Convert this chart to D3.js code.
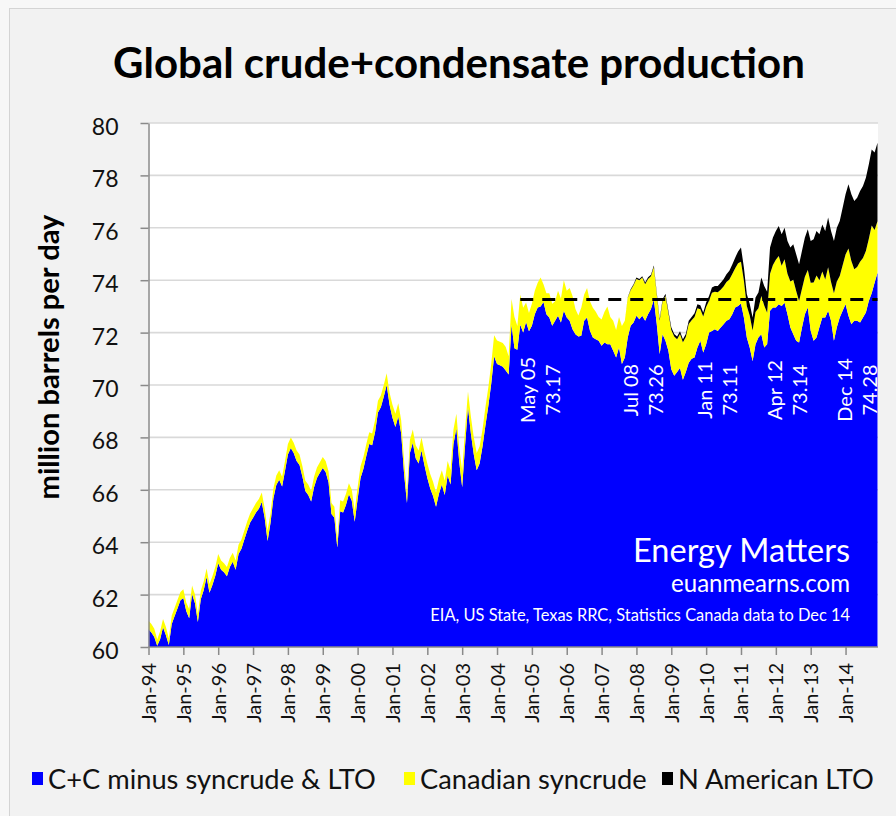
<!DOCTYPE html>
<html><head><meta charset="utf-8">
<script src="https://cdn.jsdelivr.net/npm/d3@7"></script>
<style>
html,body{margin:0;padding:0;background:#f7f7f7;}
svg{display:block;font-family:Lato,"Open Sans",sans-serif;}
</style></head><body>
<svg id="c" width="896" height="816"></svg>
<script>
// ---- data (million barrels per day), monthly Jan-94 .. Dec-14 ----
const blue = [
60.68,60.55,60.38,60.05,60.30,60.75,60.45,60.08,60.88,61.18,61.48,61.78,
61.87,61.37,61.10,62.02,61.67,60.95,61.82,62.17,62.67,62.07,62.37,62.72,
63.20,62.95,62.85,62.70,63.05,63.25,62.95,63.55,63.75,64.10,64.45,64.75,
64.93,65.13,65.28,65.53,64.93,64.05,64.73,65.68,66.18,66.38,66.13,66.73,
67.35,67.60,67.40,67.10,66.95,66.50,65.95,65.80,65.55,66.10,66.45,66.65,
66.83,66.68,66.28,65.08,64.93,63.80,65.18,65.13,65.43,65.83,65.58,64.78,
65.65,66.45,66.80,67.30,67.75,67.70,68.20,68.95,69.15,69.55,70.00,69.25,
68.75,68.40,68.80,68.15,66.60,65.50,67.40,67.80,67.20,67.00,67.50,66.95,
66.45,66.05,65.75,65.35,65.85,66.20,65.80,66.55,66.20,67.75,68.35,67.05,
66.10,67.70,69.15,68.15,67.35,66.75,67.00,67.65,68.45,69.20,70.05,71.10,
70.80,70.75,70.70,70.55,70.40,72.30,71.40,71.35,72.30,72.00,72.40,72.05,
72.26,72.70,72.96,73.00,73.17,72.70,72.58,72.26,72.45,72.64,72.39,72.83,
72.58,72.45,72.13,71.94,71.85,71.88,72.45,72.58,72.07,71.81,71.75,71.69,
71.50,71.62,71.56,71.56,71.31,71.05,71.43,70.80,71.05,71.81,72.26,72.39,
72.64,72.51,72.64,72.45,72.70,72.90,73.26,72.32,71.18,71.94,71.69,71.31,
70.60,70.35,70.50,70.65,70.20,70.50,70.85,71.00,71.05,71.43,71.69,71.24,
71.56,72.00,72.06,72.13,72.06,72.19,72.32,72.45,72.51,72.70,72.96,73.02,
73.11,72.58,71.81,71.43,70.92,71.56,71.81,71.94,71.43,71.56,72.83,72.96,
72.96,73.08,73.02,73.14,72.70,72.19,71.94,71.69,71.62,72.19,72.70,72.96,
72.07,71.69,71.81,72.20,72.58,72.58,72.83,72.45,71.69,72.20,72.58,72.83,
73.08,72.64,72.32,72.45,72.45,72.39,72.58,72.77,73.21,73.50,73.90,74.28
];
const syncrude = [
0.32,0.33,0.32,0.25,0.30,0.32,0.31,0.25,0.32,0.32,0.32,0.32,
0.33,0.33,0.35,0.33,0.33,0.30,0.33,0.33,0.33,0.33,0.33,0.33,
0.35,0.35,0.35,0.35,0.35,0.35,0.35,0.35,0.35,0.35,0.35,0.35,
0.37,0.37,0.37,0.37,0.37,0.40,0.37,0.37,0.37,0.37,0.37,0.37,
0.40,0.40,0.40,0.40,0.40,0.40,0.40,0.40,0.40,0.40,0.40,0.40,
0.42,0.42,0.42,0.42,0.42,0.30,0.42,0.42,0.42,0.42,0.42,0.42,
0.45,0.45,0.45,0.45,0.45,0.45,0.45,0.45,0.45,0.45,0.45,0.45,
0.50,0.50,0.50,0.50,0.50,0.35,0.50,0.50,0.50,0.50,0.50,0.50,
0.55,0.55,0.55,0.55,0.55,0.55,0.55,0.55,0.55,0.55,0.55,0.55,
0.65,0.60,0.60,0.65,0.65,0.65,0.65,0.65,0.70,0.70,0.75,0.80,
0.90,0.90,0.90,0.90,0.70,0.98,1.20,0.90,1.15,0.95,0.75,0.70,
0.84,0.90,0.94,1.10,0.68,0.80,0.92,0.84,0.75,0.96,0.91,1.17,
1.02,1.25,1.27,0.96,0.80,1.07,1.00,1.12,1.13,1.14,1.05,0.91,
1.00,1.18,1.44,1.04,1.14,1.05,1.17,1.45,1.40,1.52,1.36,1.42,
1.41,1.49,1.46,1.40,1.35,1.25,1.24,1.13,1.27,1.26,1.71,1.44,
1.50,1.50,1.25,1.30,1.43,1.33,1.48,1.47,1.55,1.50,1.20,1.37,
1.42,1.22,1.46,1.43,1.48,1.45,1.44,1.48,1.52,1.54,1.50,1.63,
1.59,1.40,1.21,1.22,1.16,1.23,1.12,1.46,1.60,1.20,1.42,1.62,
1.82,1.84,1.53,1.66,1.55,1.76,2.08,1.90,1.59,1.48,1.43,1.43,
1.83,2.22,2.37,1.80,1.75,1.45,1.66,1.48,1.81,1.75,1.58,1.74,
1.90,2.57,2.41,1.97,2.05,2.31,2.27,2.34,2.36,2.59,2.02,1.97
];
const lto = [
0,0,0,0,0,0,0,0,0,0,0,0,
0,0,0,0,0,0,0,0,0,0,0,0,
0,0,0,0,0,0,0,0,0,0,0,0,
0,0,0,0,0,0,0,0,0,0,0,0,
0,0,0,0,0,0,0,0,0,0,0,0,
0,0,0,0,0,0,0,0,0,0,0,0,
0,0,0,0,0,0,0,0,0,0,0,0,
0,0,0,0,0,0,0,0,0,0,0,0,
0,0,0,0,0,0,0,0,0,0,0,0,
0,0,0,0,0,0,0,0,0,0,0,0,
0,0,0,0,0,0,0,0,0,0,0,0,
0,0,0,0,0,0,0,0,0,0,0,0,
0,0,0,0,0,0,0,0,0,0,0,0,
0,0,0,0,0,0,0,0,0,0.02,0.03,0.04,
0.05,0.05,0.05,0.06,0.06,0.06,0.06,0.07,0.07,0.07,0.08,0.08,
0.10,0.10,0.10,0.10,0.12,0.12,0.12,0.13,0.14,0.15,0.15,0.16,
0.17,0.18,0.20,0.22,0.24,0.26,0.28,0.30,0.33,0.36,0.40,0.45,
0.55,0.50,0.45,0.45,0.50,0.55,0.60,0.70,0.75,0.80,1.00,1.05,
1.10,1.15,1.20,1.20,1.25,1.30,1.35,1.40,1.40,1.45,1.50,1.55,
1.60,1.65,1.70,1.75,1.80,1.85,1.90,1.95,2.00,2.05,2.10,2.20,
2.30,2.45,2.55,2.60,2.65,2.70,2.75,2.80,2.85,2.90,2.95,3.00
];
const seriesNames = ["C+C minus syncrude & LTO","Canadian syncrude","N American LTO"];
const seriesColors = ["#0000ff","#ffff00","#000000"];
const yTicks = [60,62,64,66,68,70,72,74,76,78,80];
const xTickLabels = ["Jan-94","Jan-95","Jan-96","Jan-97","Jan-98","Jan-99","Jan-00","Jan-01","Jan-02","Jan-03","Jan-04","Jan-05","Jan-06","Jan-07","Jan-08","Jan-09","Jan-10","Jan-11","Jan-12","Jan-13","Jan-14"];
const xTickMonths = [0,12,24,36,48,60,72,84,96,108,120,132,144,156,168,180,192,204,216,228,240];
const peakMonthLabels = ["May 05","Jul 08","Jan 11","Apr 12","Dec 14"];
const peakValueLabels = ["73.17","73.26","73.11","73.14","74.28"];
const peakMonthIndex = [136,174,204,219,251];
const refLevel = 73.26;
const refFromMonth = 128;
const titleText = "Global crude+condensate production";
const yTitle = "million barrels per day";
const noteLines = ["Energy Matters","euanmearns.com","EIA, US State, Texas RRC, Statistics Canada data to Dec 14"];

// ---- layout ----
const svg = d3.select("#c");
const L = 148.5, R = 878, T = 123, B = 647;
const x = d3.scaleLinear().domain([0, blue.length - 1]).range([L, 877.5]);
const y = d3.scaleLinear().domain([60, 80]).range([B, T]);

function fit(sel, w){
  const fs = parseFloat(sel.attr("font-size"));
  const len = sel.node().getComputedTextLength();
  sel.attr("font-size", (fs * w / len).toFixed(2));
  return sel;
}

svg.append("rect").attr("x",9.5).attr("y",8.5).attr("width",920).attr("height",830)
  .attr("fill","#f2f2f2").attr("stroke","#d4d4d4").attr("stroke-width",1);

// plot background
svg.append("rect").attr("x",L).attr("y",T).attr("width",R-L).attr("height",B-T).attr("fill","#ffffff");

// gridlines
svg.append("g").selectAll("line").data(yTicks.slice(1)).join("line")
  .attr("x1",L).attr("x2",R).attr("y1",d=>y(d)).attr("y2",d=>y(d))
  .attr("stroke","#d9d9d9").attr("stroke-width",1.6);

// stacked areas
const rows = blue.map((b,i)=>({i, a:b, b:syncrude[i], c:lto[i]}));
const stacked = d3.stack().keys(["a","b","c"])(rows);
svg.append("clipPath").attr("id","pc").append("rect").attr("x",L).attr("y",T).attr("width",R-L).attr("height",B-T);
const area = d3.area().x(d=>x(d.data.i)).y0(d=>y(d[0])).y1(d=>y(d[1]));
svg.append("g").attr("clip-path","url(#pc)").selectAll("path").data(stacked).join("path")
  .attr("d",area).attr("fill",(d,k)=>seriesColors[k]);

// dashed reference line
svg.append("line").attr("x1",x(refFromMonth)).attr("x2",x(blue.length-1))
  .attr("y1",y(refLevel)).attr("y2",y(refLevel))
  .attr("stroke","#000").attr("stroke-width",3).attr("stroke-dasharray","13,9");

// axes
const yAxis = d3.axisLeft(y).tickValues(yTicks).tickSize(8).tickSizeOuter(0).tickPadding(22).tickFormat(d3.format("d"));
const gy = svg.append("g").attr("transform",`translate(${L},0)`).call(yAxis);
gy.selectAll("path,line").attr("stroke","#8a8a8a").attr("stroke-width",1.5);
gy.selectAll("text").attr("font-size",23).attr("fill","#111").attr("dy","0.5em").attr("font-family","Lato");

const xAxis = d3.axisBottom(x).tickValues(xTickMonths).tickSize(8).tickSizeOuter(0)
  .tickFormat((d,k)=>xTickLabels[k]);
const gx = svg.append("g").attr("transform",`translate(0,${B})`).call(xAxis);
gx.select(".domain").attr("d",`M${L},0H${R}`);
gx.selectAll("path,line").attr("stroke","#8a8a8a").attr("stroke-width",1.5);
gx.selectAll("text").attr("font-size",20).attr("fill","#111").attr("font-family","Lato")
  .attr("text-anchor","end").attr("transform","rotate(-90)")
  .attr("x",-16).attr("y",0).attr("dy","0.35em");

// title
fit(svg.append("text").attr("x",459).attr("y",78).attr("text-anchor","middle")
  .attr("font-weight","bold").attr("font-size",38).attr("fill","#000").text(titleText), 692);

// y-axis title
fit(svg.append("text").attr("transform","translate(59,357) rotate(-90)").attr("text-anchor","middle")
  .attr("font-weight","bold").attr("font-size",21).attr("fill","#000").text(yTitle), 285);

// notes
const noteY = [562, 592, 621], noteW = [217, 179, 420], noteFs = [28, 20, 19];
noteLines.forEach((t,k)=>{
  fit(svg.append("text").attr("x",850).attr("y",noteY[k]).attr("text-anchor","end")
    .attr("font-size",noteFs[k]).attr("fill","#ffffff").text(t), noteW[k]);
});

// peak labels
const labelDx = [-3, -10, -23, 3, -20];
peakMonthIndex.forEach((mi,k)=>{
  const cx = x(mi) + labelDx[k];
  [peakMonthLabels[k], peakValueLabels[k]].forEach((t,j)=>{
    svg.append("text").attr("transform",`translate(${cx - 12.5 + 25*j + 7},390) rotate(-90)`)
      .attr("text-anchor","middle").attr("font-size",20).attr("fill","#ffffff").text(t);
  });
});

// legend
const lg = svg.append("g");
const legendStarts = [32, 404, 662];
const first = lg.append("text").attr("font-size",25).text(seriesNames[0]);
fit(first, 328);
const lfs = first.attr("font-size");
first.remove();
seriesNames.forEach((n,k)=>{
  const lx = legendStarts[k];
  lg.append("rect").attr("x",lx).attr("y",772).attr("width",11).attr("height",13).attr("fill",seriesColors[k]);
  lg.append("text").attr("x",lx+16).attr("y",789).attr("font-size",lfs).attr("fill","#111").text(n);
});
</script>
</body></html>
